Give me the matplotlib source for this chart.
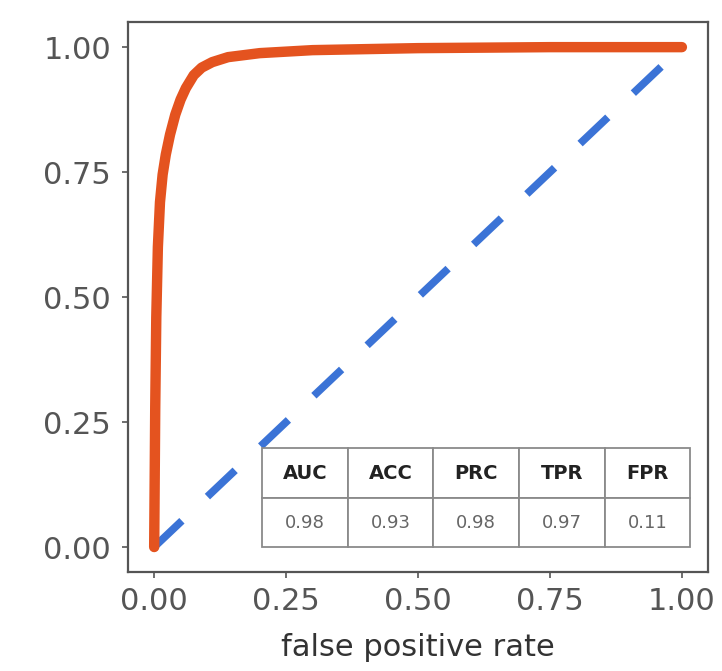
import matplotlib
matplotlib.use("Agg")
import matplotlib.pyplot as plt

# ROC curve points
fpr = [0.0, 0.001, 0.002, 0.004, 0.007, 0.011, 0.016, 0.022, 0.03, 0.04, 0.05,
       0.06, 0.075, 0.09, 0.11, 0.14, 0.20, 0.30, 0.50, 0.75, 1.0]
tpr = [0.0, 0.14, 0.28, 0.46, 0.60, 0.69, 0.745, 0.785, 0.825, 0.865, 0.895,
       0.918, 0.944, 0.959, 0.970, 0.980, 0.988, 0.994, 0.998, 1.0, 1.0]

# chance line
chance_x = [0.0, 1.0]
chance_y = [0.0, 1.0]

# summary metrics
metric_names = ["AUC", "ACC", "PRC", "TPR", "FPR"]
metric_values = ["0.98", "0.93", "0.98", "0.97", "0.11"]

ticks = [0.0, 0.25, 0.5, 0.75, 1.0]
tick_labels = ["0.00", "0.25", "0.50", "0.75", "1.00"]

fig = plt.figure(figsize=(7.22, 6.71), dpi=100)
ax = fig.add_axes([0.177, 0.1475, 0.804, 0.8195])

ax.plot(chance_x, chance_y, color="#3b73d6", lw=5.5, dashes=(5.0, 4.6),
        solid_capstyle="butt", dash_capstyle="butt", zorder=2)
ax.plot(fpr, tpr, color="#e4531f", lw=7.5, solid_capstyle="round",
        solid_joinstyle="round", zorder=3)

ax.set_xlim(-0.05, 1.05)
ax.set_ylim(-0.05, 1.05)
ax.set_xticks(ticks)
ax.set_xticklabels(tick_labels)
ax.set_yticks(ticks)
ax.set_yticklabels(tick_labels)
ax.tick_params(axis="both", colors="#555555", labelcolor="#555555",
               labelsize=22, length=4, width=1.2)
ax.tick_params(axis="x", pad=7)
ax.tick_params(axis="y", pad=8)
for sp in ax.spines.values():
    sp.set_color("#555555")
    sp.set_linewidth(1.6)
ax.set_xlabel("false positive rate", fontsize=22, color="#333333", labelpad=12)

tbl = ax.table(cellText=[metric_values], colLabels=metric_names,
               cellLoc="center", bbox=[0.231, 0.045, 0.738, 0.18])
tbl.auto_set_font_size(False)
for (r, c), cell in tbl.get_celld().items():
    cell.set_edgecolor("#8a8a8a")
    cell.set_linewidth(1.3)
    cell.set_facecolor("white")
    if r == 0:
        cell.get_text().set_fontsize(14)
        cell.get_text().set_fontweight("bold")
        cell.get_text().set_color("#222222")
    else:
        cell.get_text().set_fontsize(13)
        cell.get_text().set_color("#666666")
tbl.set_zorder(4)

fig.savefig("out.png", dpi=100)
